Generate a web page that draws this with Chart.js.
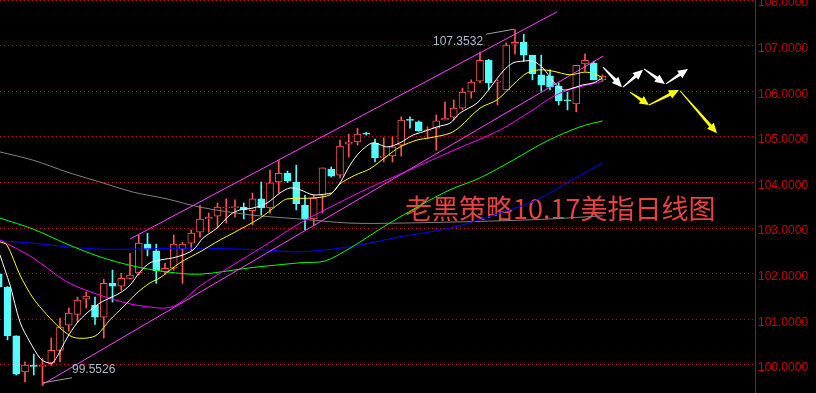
<!DOCTYPE html>
<html>
<head>
<meta charset="utf-8">
<script src="https://cdn.jsdelivr.net/npm/chart.js@4.4.0/dist/chart.umd.min.js"></script>
<style>
html,body{margin:0;padding:0;background:#000;overflow:hidden}
#wrap{width:816px;height:393px;position:relative;background:#000}
canvas{display:block}
</style>
</head>
<body>
<div id="wrap"><canvas id="c" width="816" height="393"></canvas></div>
<script>
// ---- Candles (daily OHLC) ----
const openP  = [102.00,101.71,100.64,99.85,99.99,99.97,100.04,100.32,100.87,101.11,101.44,101.31,101.05,101.79,101.73,101.90,102.02,102.65,102.50,102.04,102.12,102.54,102.67,102.91,103.20,103.26,103.44,103.45,103.46,103.38,103.64,103.44,104.01,104.20,104.01,103.50,103.20,103.72,104.29,104.16,104.84,104.89,105.08,104.86,104.55,104.58,104.82,105.38,105.33,105.13,105.19,105.37,105.43,105.63,105.98,106.22,106.68,106.20,106.03,107.03,107.08,106.79,106.36,106.33,106.11,105.81,105.72,106.60,106.62,106.25];
const highP  = [102.05,101.72,100.64,100.07,100.24,100.15,100.59,101.03,101.25,101.49,101.60,101.49,101.88,102.08,102.01,102.45,102.85,102.89,102.65,102.23,102.85,102.69,102.96,103.50,103.33,103.55,103.64,103.62,103.55,103.77,104.01,104.27,104.49,104.25,104.38,103.72,103.72,104.32,104.34,104.93,105.06,105.19,105.10,104.95,104.98,105.00,105.44,105.44,105.35,105.22,105.48,105.76,105.81,106.07,106.25,106.86,106.70,106.25,107.06,107.35,107.25,106.79,106.79,106.47,106.18,105.98,106.57,106.82,106.66,106.36];
const lowP   = [101.69,100.55,99.78,99.63,99.78,99.55,99.99,100.07,100.74,100.94,101.25,100.89,100.59,101.38,101.64,101.88,101.97,102.39,101.79,101.99,102.08,101.79,102.52,102.80,102.91,103.00,103.11,103.24,103.20,103.07,103.29,103.33,103.77,104.00,103.40,102.96,103.07,103.33,104.12,104.10,104.56,104.82,105.04,104.45,104.45,104.45,104.58,105.19,105.12,104.98,104.71,105.37,105.37,105.59,105.85,106.18,106.03,105.70,106.03,106.82,106.66,106.25,106.00,106.03,105.70,105.59,105.55,106.44,106.25,106.22];
const closeP = [101.71,100.64,99.80,100.00,99.97,99.99,100.32,100.83,101.14,101.42,101.51,101.05,101.79,101.73,101.90,101.97,102.67,102.54,102.06,102.12,102.65,102.65,102.89,103.20,103.24,103.46,103.46,103.47,103.40,103.64,103.44,103.99,104.20,104.03,103.53,103.20,103.66,104.32,104.14,104.80,104.89,105.06,105.06,104.54,104.56,104.78,105.37,105.36,105.13,105.15,105.35,105.41,105.63,105.98,106.20,106.68,106.18,106.22,107.01,107.07,106.79,106.38,106.14,106.09,105.79,105.79,106.57,106.68,106.25,106.33];

// ---- Moving averages: [candle index, price] ----
const ma5 = [[0.14,102.41],[1.29,101.75],[2.43,100.94],[3.57,100.50],[4.71,100.15],[5.29,100.07],[6.09,100.04],[6.66,100.18],[7.80,100.59],[8.94,100.92],[10.09,101.14],[11.57,101.36],[12.71,101.47],[13.86,101.58],[15.0,101.75],[16.14,102.04],[17.29,102.24],[18.43,102.30],[20.37,102.37],[22.2,102.52],[23.34,102.78],[24.94,103.00],[26.43,103.29],[27.57,103.40],[29.06,103.44],[30.66,103.55],[32.14,103.77],[33.29,103.88],[34.43,103.84],[35.91,103.73],[37.51,103.75],[38.2,103.79],[39.0,103.99],[40.14,104.38],[41.29,104.67],[42.77,104.87],[44.37,104.78],[45.86,104.87],[47.34,105.04],[48.49,105.11],[50.09,105.22],[51.57,105.30],[52.71,105.52],[54.66,105.74],[56.14,106.07],[57.63,106.44],[58.77,106.62],[59.91,106.66],[61.06,106.66],[62.2,106.51],[63.34,106.22],[64.49,106.03],[65.63,106.07],[66.77,106.14],[67.91,106.18],[69,106.29]];
const ma10 = [[0.14,102.70],[0.94,102.63],[2.43,101.97],[3.91,101.47],[5.51,101.10],[7.0,100.81],[8.49,100.61],[10.09,100.59],[11.23,100.66],[12.71,100.99],[14.2,101.27],[15.80,101.58],[17.29,101.80],[18.43,101.91],[20.71,102.24],[23.0,102.48],[25.29,102.74],[26.77,102.89],[29.86,103.22],[32.14,103.55],[32.94,103.64],[35.91,103.66],[37.86,103.73],[39.0,103.97],[40.71,104.16],[42.43,104.30],[44.37,104.58],[45.86,104.78],[47.8,104.93],[49.29,104.98],[51.57,105.08],[52.71,105.22],[55.0,105.63],[56.94,105.81],[58.77,106.14],[60.37,106.40],[61.86,106.47],[63.34,106.44],[65.29,106.36],[67.0,106.42],[68.37,106.36],[69,106.29]];
const ma20 = [[0.14,102.74],[3.91,102.35],[7.80,101.82],[11.57,101.53],[15.0,101.34],[17.29,101.27],[19.23,101.25],[20.71,101.36],[23.0,101.73],[26.77,102.19],[30.66,102.65],[34.43,103.11],[38.2,103.49],[42.09,103.86],[46.66,104.25],[51.57,104.67],[57.29,105.15],[60.71,105.55],[64.14,105.96],[69,106.22]];
const ma60 = [[0.14,103.22],[3.91,102.98],[7.80,102.65],[11.57,102.37],[15.34,102.17],[19.23,102.04],[23.0,101.99],[28.71,102.13],[34.43,102.24],[37.29,102.28],[40.14,102.56],[43.91,103.02],[47.8,103.46],[51.57,103.84],[55.0,104.10],[58.77,104.49],[62.66,104.91],[66.43,105.22],[69,105.35]];
const ma120 = [[0.14,102.72],[3.91,102.67],[7.80,102.59],[11.57,102.54],[15.34,102.54],[23.0,102.56],[30.66,102.52],[34.43,102.48],[40.14,102.59],[45.86,102.81],[51.57,103.00],[57.29,103.33],[61.51,103.62],[65.29,104.03],[69,104.43]];
const ma250 = [[0.14,104.67],[3.91,104.49],[7.80,104.23],[11.57,104.01],[15.34,103.79],[19.23,103.64],[23.0,103.46],[28.71,103.29],[34.43,103.20],[40.14,103.11],[45.86,103.11],[57.29,103.16],[63.0,103.20],[69,103.27]];

// ---- Trend channel and marker lines ----
const channelUpper = [[15.0,102.76],[63.8,107.74]];
const channelLower = [[5.06,99.58],[69.06,106.77]];
const highMarkLine = [[55.69,107.25],[58.89,107.36]];
const lowMarkLine  = [[5.06,99.61],[8.37,99.72]];

// ---- Forecast arrows: [from, to] ----
const whiteArrows = [[[69.06,106.53],[71.23,106.09]],[[71.34,106.09],[73.63,106.47]],[[73.74,106.49],[76.14,106.16]],[[76.26,106.16],[78.77,106.49]]];
const yellowArrows = [[[72.14,105.98],[74.31,105.70]],[[74.31,105.70],[77.74,106.03]],[[77.86,106.01],[82.09,105.08]]];

// ---- Texts ----
const titleText = '老黑策略10.17美指日线图';
const titleAnchor = [46.43,103.42];
const highLabel = {text:'107.3532', at:[49.63,107.08]};
const lowLabel  = {text:'99.5526',  at:[8.37,99.89]};
const yTickValues = [100,101,102,103,104,105,106,107,108];

const RED = '#ff5454', CYAN = '#54fcfc';
const idx = openP.map((_, i) => i);
const up = idx.map(i => closeP[i] >= openP[i]);
const candleColor = idx.map(i => up[i] ? RED : CYAN);
const bodyFill = idx.map(i => up[i] ? '#000000' : CYAN);

const lineDs = (pts, color, order, tension) => ({
  type: 'line',
  data: pts.map(p => ({x: p[0], y: p[1]})),
  borderColor: color, borderWidth: 1, pointRadius: 0,
  tension: tension, order: order, fill: false
});

const bgPlugin = {
  id: 'bg',
  beforeDraw(chart) {
    const ctx = chart.ctx;
    ctx.save(); ctx.fillStyle = '#000'; ctx.fillRect(0, 0, chart.width, chart.height); ctx.restore();
  },
  beforeDatasetsDraw(chart) {
    const {ctx, scales: {x, y}} = chart;
    ctx.save();
    ctx.font = '27px "Noto Sans CJK SC", sans-serif';
    ctx.fillStyle = '#e84242';
    ctx.textBaseline = 'middle';
    ctx.textAlign = 'left';
    ctx.fillText(titleText, x.getPixelForValue(titleAnchor[0]), y.getPixelForValue(titleAnchor[1]));
    ctx.restore();
  },
  afterDatasetsDraw(chart) {
    const {ctx, scales: {x, y}} = chart;
    ctx.save();
    ctx.font = '12px "Liberation Sans", Arial, sans-serif';
    ctx.fillStyle = '#aebbcc';
    ctx.textBaseline = 'middle';
    ctx.textAlign = 'left';
    [highLabel, lowLabel].forEach(l => ctx.fillText(l.text, x.getPixelForValue(l.at[0]), y.getPixelForValue(l.at[1])));
    const arrow = (a, color) => {
      const x0 = x.getPixelForValue(a[0][0]), y0 = y.getPixelForValue(a[0][1]);
      const x1 = x.getPixelForValue(a[1][0]), y1 = y.getPixelForValue(a[1][1]);
      const len = Math.hypot(x1 - x0, y1 - y0), ang = Math.atan2(y1 - y0, x1 - x0);
      const hl = Math.min(10, len * 0.4), hw = 4.5;
      ctx.save();
      ctx.translate(x0, y0); ctx.rotate(ang);
      ctx.fillStyle = color;
      ctx.beginPath();
      ctx.moveTo(0, -0.5);
      ctx.lineTo(len - hl, -1.6);
      ctx.lineTo(len - hl, -hw);
      ctx.lineTo(len, 0);
      ctx.lineTo(len - hl, hw);
      ctx.lineTo(len - hl, 1.6);
      ctx.lineTo(0, 0.5);
      ctx.closePath();
      ctx.fill();
      ctx.restore();
    };
    whiteArrows.forEach(a => arrow(a, '#ffffff'));
    yellowArrows.forEach(a => arrow(a, '#ffff00'));
    ctx.restore();
  }
};

new Chart(document.getElementById('c'), {
  type: 'bar',
  data: {
    datasets: [
      {
        type: 'bar', label: 'wick',
        data: idx.map(i => ({x: i, y: [lowP[i], highP[i]]})),
        backgroundColor: candleColor, borderWidth: 0,
        barThickness: 1, grouped: false, order: 20
      },
      {
        type: 'bar', label: 'body',
        data: idx.map(i => ({x: i, y: [Math.min(openP[i], closeP[i]), Math.max(openP[i], closeP[i])]})),
        backgroundColor: bodyFill, borderColor: candleColor, borderWidth: 1,
        borderSkipped: false, minBarLength: 1, barThickness: 7, grouped: false, order: 19
      },
      lineDs(ma250, '#808080', 9, 0.3),
      lineDs(ma120, '#0000ff', 8, 0.3),
      lineDs(ma60, '#00ff00', 7, 0.3),
      lineDs(channelUpper, '#ff44ff', 6, 0),
      lineDs(channelLower, '#ff44ff', 6, 0),
      lineDs(ma20, '#ff00ff', 5, 0.3),
      lineDs(ma10, '#ffff00', 4, 0.3),
      lineDs(ma5, '#ffffff', 3, 0.3),
      lineDs(highMarkLine, '#a0a0a0', 2, 0),
      lineDs(lowMarkLine, '#a0a0a0', 2, 0)
    ]
  },
  options: {
    responsive: false,
    animation: false,
    events: [],
    devicePixelRatio: 1,
    layout: {padding: 0},
    plugins: {legend: {display: false}, tooltip: {enabled: false}},
    scales: {
      x: {
        type: 'linear', display: false, offset: false,
        min: 0.143, max: 86.43,
        grid: {display: false}
      },
      y: {
        type: 'linear', position: 'right',
        min: 99.386, max: 108,
        afterBuildTicks: s => { s.ticks = yTickValues.map(v => ({value: v})); },
        afterFit: s => { s.width = 61; s.paddingTop = 0; s.paddingBottom = 0; },
        ticks: {
          color: '#c80000', padding: 3, labelOffset: 3,
          font: {family: '"Liberation Sans", Arial, sans-serif', size: 12},
          callback: v => Number(v).toFixed(4)
        },
        grid: {color: '#c00000', lineWidth: 1, drawTicks: false},
        border: {display: true, color: '#c80000', width: 1, dash: [1, 3]}
      }
    }
  },
  plugins: [bgPlugin]
});
</script>
</body>
</html>
